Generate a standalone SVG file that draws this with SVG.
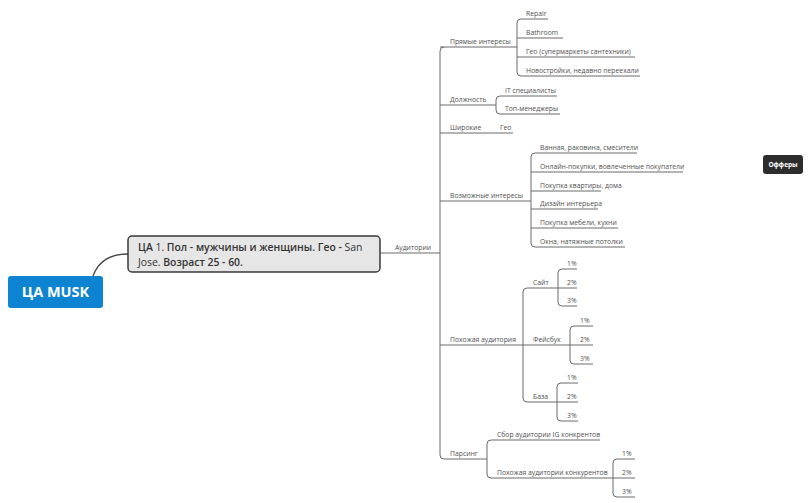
<svg xmlns="http://www.w3.org/2000/svg" width="812" height="503" viewBox="0 0 812 503">
<style>
.t{font-family:"Open Sans","Liberation Sans",sans-serif;font-size:6.8px;fill:#505050}
.u{stroke:#6a6a6a;stroke-width:1;fill:none}
.c{stroke:#6a6a6a;stroke-width:1;fill:none}
</style>
<rect width="812" height="503" fill="#fff"/>
<g id="connectors">
<path d="M93,276 C98,262 110,254 128,254" stroke="#444" stroke-width="1.3" fill="none"/>
<path class="c" d="M380,253 L440,253"/>
<path class="c" d="M444,47 Q440,47 440,51 L440,455 Q440,459 444,459"/>
<path class="c" d="M521,19 Q517,19 517,23 L517,72 Q517,76 521,76"/>
<path class="c" d="M500,96 Q496,96 496,100 L496,110 Q496,114 500,114"/>
<path class="c" d="M535,153 Q531,153 531,157 L531,243 Q531,247 535,247"/>
<path class="c" d="M527,288 Q523,288 523,292 L523,398 Q523,402 527,402"/>
<path class="c" d="M562,269 Q558,269 558,273 L558,302 Q558,306 562,306"/>
<path class="c" d="M574,326 Q570,326 570,330 L570,360 Q570,364 574,364"/>
<path class="c" d="M561,383 Q557,383 557,387 L557,417 Q557,421 561,421"/>
<path class="c" d="M491,440 Q487,440 487,444 L487,474 Q487,478 491,478"/>
<path class="c" d="M617,459 Q613,459 613,463 L613,493 Q613,497 617,497"/>
</g>
<g id="root"><rect x="8" y="276" width="95" height="32" rx="3" fill="#0d84d2"/><text x="55.5" y="297" text-anchor="middle" font-family="'Open Sans','Liberation Sans',sans-serif" font-size="14.5" font-weight="bold" fill="#fff">ЦА MUSK</text></g>
<g id="main"><rect x="128" y="236" width="252" height="36" rx="4" fill="#e6e6e6" stroke="#3a3a3a" stroke-width="1.5"/><text font-family="'Open Sans','Liberation Sans',sans-serif" font-size="10.4" font-weight="600" fill="#333"><tspan x="138" y="251">ЦА <tspan font-weight="normal">1.</tspan> Пол - мужчины и женщины. Гео - <tspan font-weight="normal">San</tspan></tspan><tspan x="138" y="266"><tspan font-weight="normal">Jose.</tspan> Возраст 25 - 60.</tspan></text></g>
<g id="audit"><text class="t" x="395" y="249.5">Аудитории</text></g>
<g id="offers"><rect x="763" y="155" width="40" height="19" rx="3" fill="#2d2d2d"/><text x="783" y="167" text-anchor="middle" font-family="'Open Sans','Liberation Sans',sans-serif" font-size="6.5" font-weight="bold" fill="#fff">Офферы</text></g>
<g id="n-pryamye"><text class="t" x="450" y="44">Прямые интересы</text><path class="u" d="M440,47 H517"/></g>
<g id="n-repair"><text class="t" x="526" y="16">Repair</text><path class="u" d="M521,19 H548"/></g>
<g id="n-bathroom"><text class="t" x="526" y="35">Bathroom</text><path class="u" d="M517,38 H563"/></g>
<g id="n-geo1"><text class="t" x="526" y="54">Гео (супермаркеты сантехники)</text><path class="u" d="M517,57 H635"/></g>
<g id="n-novostr"><text class="t" x="526" y="73">Новостройки, недавно переехали</text><path class="u" d="M521,76 H640"/></g>
<g id="n-dolzh"><text class="t" x="450" y="102">Должность</text><path class="u" d="M440,105 H496"/></g>
<g id="n-it"><text class="t" x="505" y="93">IT специалисты</text><path class="u" d="M500,96 H557"/></g>
<g id="n-top"><text class="t" x="505" y="111">Топ-менеджеры</text><path class="u" d="M500,114 H560"/></g>
<g id="n-shir"><text class="t" x="450" y="130">Широкие</text><path class="u" d="M440,133 H490"/></g>
<g id="n-geo2"><text class="t" x="500" y="130">Гео</text><path class="u" d="M490,133 H513"/></g>
<g id="n-vozm"><text class="t" x="450" y="198">Возможные интересы</text><path class="u" d="M440,201 H531"/></g>
<g id="n-v1"><text class="t" x="540" y="150">Ванная, раковина, смесители</text><path class="u" d="M535,153 H637"/></g>
<g id="n-v2"><text class="t" x="540" y="169">Онлайн-покупки, вовлеченные покупатели</text><path class="u" d="M531,172 H683"/></g>
<g id="n-v3"><text class="t" x="540" y="188">Покупка квартиры, дома</text><path class="u" d="M531,191 H601"/></g>
<g id="n-v4"><text class="t" x="540" y="206">Дизайн интерьера</text><path class="u" d="M531,209 H598"/></g>
<g id="n-v5"><text class="t" x="540" y="225">Покупка мебели, кухни</text><path class="u" d="M531,228 H618"/></g>
<g id="n-v6"><text class="t" x="540" y="244">Окна, натяжные потолки</text><path class="u" d="M535,247 H625"/></g>
<g id="n-pohozh"><text class="t" x="450" y="342">Похожая аудитория</text><path class="u" d="M440,345 H523"/></g>
<g id="n-sait"><text class="t" x="533" y="285">Сайт</text><path class="u" d="M527,288 H558"/></g>
<g id="n-s1"><text class="t" x="567" y="266">1%</text><path class="u" d="M562,269 H577"/></g>
<g id="n-s2"><text class="t" x="567" y="285">2%</text><path class="u" d="M558,288 H577"/></g>
<g id="n-s3"><text class="t" x="567" y="303">3%</text><path class="u" d="M562,306 H577"/></g>
<g id="n-fb"><text class="t" x="533" y="342">Фейсбук</text><path class="u" d="M523,345 H570"/></g>
<g id="n-f1"><text class="t" x="580" y="323">1%</text><path class="u" d="M574,326 H593"/></g>
<g id="n-f2"><text class="t" x="580" y="342">2%</text><path class="u" d="M570,345 H593"/></g>
<g id="n-f3"><text class="t" x="580" y="361">3%</text><path class="u" d="M574,364 H593"/></g>
<g id="n-baza"><text class="t" x="533" y="399">База</text><path class="u" d="M527,402 H557"/></g>
<g id="n-b1"><text class="t" x="567" y="380">1%</text><path class="u" d="M561,383 H578"/></g>
<g id="n-b2"><text class="t" x="567" y="399">2%</text><path class="u" d="M557,402 H578"/></g>
<g id="n-b3"><text class="t" x="567" y="418">3%</text><path class="u" d="M561,421 H578"/></g>
<g id="n-pars"><text class="t" x="450" y="456">Парсинг</text><path class="u" d="M444,459 H487"/></g>
<g id="n-sbor"><text class="t" x="497" y="437">Сбор аудитории IG конкрентов</text><path class="u" d="M491,440 H600"/></g>
<g id="n-pohk"><text class="t" x="497" y="475">Похожая аудитории конкурентов</text><path class="u" d="M491,478 H613"/></g>
<g id="n-p1"><text class="t" x="622" y="456">1%</text><path class="u" d="M617,459 H635"/></g>
<g id="n-p2"><text class="t" x="622" y="475">2%</text><path class="u" d="M613,478 H635"/></g>
<g id="n-p3"><text class="t" x="622" y="494">3%</text><path class="u" d="M617,497 H635"/></g>
</svg>
